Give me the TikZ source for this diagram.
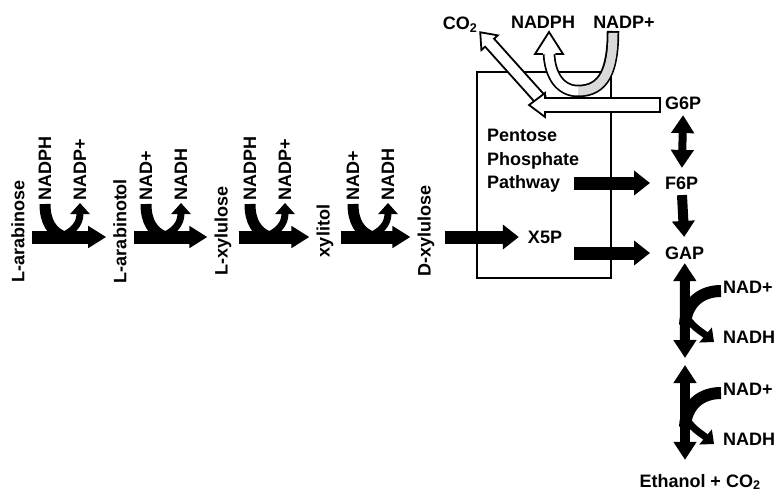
\documentclass[tikz,border=0pt]{standalone}
\usepackage{fontspec}
\setmainfont{Liberation Sans}
\usetikzlibrary{arrows.meta}

\begin{document}
\begin{tikzpicture}[x=1pt, y=-1pt, font=\bfseries\fontsize{18}{23.5}\selectfont,
  met/.style={inner sep=0pt},
  mainarr/.style={line width=13pt, -{Triangle[width=21pt,length=18pt]}},
  boxarr/.style={line width=13pt, -{Triangle[width=24pt,length=16pt]}},
  dblarr/.style={line width=10pt, {Triangle[width=22pt,length=18pt]}-{Triangle[width=22pt,length=18pt]}},
  band/.style={line width=11pt},
  outarr/.style={line width=7pt, -{Triangle[width=19pt,length=11pt]}},
  hollow/.style={draw, line width=1.8pt, fill=white, line join=miter}]
  \useasboundingbox (0,0) rectangle (778,496);
  % Pentose phosphate box
  \draw[line width=1.8pt] (477,72) rectangle (611,278);
  % Labels
  \node[met] (co2) at (460,25) {CO\textsubscript{2}};
  \node[met] (nadph) at (543,22) {NADPH};
  \node[met] (nadp) at (624,22) {NADP+};
  \node[met, anchor=west] (g6p) at (665,103) {G6P};
  \node[met, anchor=west] (f6p) at (665,183) {F6P};
  \node[met, anchor=west] (gap) at (665,253) {GAP};
  \node[met] (x5p) at (545,237) {X5P};
  \node[met, anchor=north west, align=left] (ppp) at (487,129) {Pentose\\Phosphate\\Pathway};
  \node[met] (eth) at (700,482) {Ethanol + CO\textsubscript{2}};
  \foreach \nm/\x/\txt in {ara/18/L-arabinose, arol/120/L-arabinotol, lxyl/223/L-xylulose,
      xol/325/xylitol, dxyl/426/D-xylulose}
    \node[met, rotate=90] (\nm) at (\x,231) {\txt};
  % CO2 branch
  \begin{scope}[shift={(541,100)}, rotate=131.9]
    \draw[hollow] (0pt,-6pt) -- (77pt,-6pt) -- (77pt,-11pt) -- (91pt,0pt) -- (77pt,11pt)
      -- (77pt,6pt) -- (0pt,6pt) -- cycle;
  \end{scope}
  % NADP+ in, NADPH out
  \coordinate (ubot) at (578,91);
  \draw[line width=12.5pt] (613,31) .. controls (613,70) and (604,91) .. (ubot)
    .. controls (560,91) and (550,75) .. (549,54);
  \draw[line width=9pt, gray!30, shorten <=1.8pt] (613,31) .. controls (613,70) and (604,91) .. (ubot);
  \draw[line width=9pt, white] (ubot) .. controls (560,91) and (550,75) .. (549,54);
  \draw[hollow] (542.75,54) -- (535,54) -- (549,32) -- (563,54) -- (555.25,54);
  % G6P into the pathway
  \draw[hollow] (660,98) -- (545,98) -- (545,93) -- (529,105) -- (545,117) -- (545,112)
    -- (660,112) -- cycle;
  % Arabinose steps
  \coordinate (row) at (0,237);
  \foreach \a/\b in {ara/arol, arol/lxyl, lxyl/xol, xol/dxyl}
    \draw[mainarr, shorten <=7pt, shorten >=7pt] (\a.south |- row) -- (\b.north |- row);
  \foreach \x/\ci/\co [count=\i] in {32/NADPH/NADP+, 133/NAD+/NADH, 237/NADPH/NADP+, 340/NAD+/NADH} {
    \node[met, rotate=90, anchor=west] (cin\i) at (\x+13,201) {\ci};
    \node[met, rotate=90, anchor=west] (cout\i) at (\x+48,201) {\co};
    \draw[band] ([yshift=-3pt]cin\i.west) .. controls +(0,18) and +(-12,-5) .. (\x+32,237);
    \draw[outarr] (\x+28,237) .. controls +(12,-5) and +(0,22) .. ([yshift=-2pt]cout\i.west);
  }
  \draw[boxarr, shorten <=10pt, shorten >=9pt] (dxyl.south |- row) -- (x5p.west);
  % Out of the pathway
  \coordinate (pp1) at (574,183);
  \coordinate (pp2) at (574,253);
  \draw[boxarr, shorten >=15pt] (pp1) -- (f6p.west);
  \draw[boxarr, shorten >=15pt] (pp2) -- (gap.west);
  % Glycolysis
  \draw[dblarr, line width=8pt, shorten <=5.5pt, shorten >=8.5pt] (g6p.south) -- (f6p.north);
  \draw[line width=10pt, -{Triangle[width=22pt,length=16pt]}, shorten <=5.5pt, shorten >=9.5pt]
    (f6p.south) -- (gap.north);
  \coordinate (mid) at (685,361.5);
  \draw[dblarr, shorten <=3.5pt, shorten >=3.5pt] (gap.south) -- (mid);
  \draw[dblarr, shorten <=3.5pt, shorten >=14pt] (mid) -- (mid |- eth.north);
  \foreach \y [count=\i] in {263,365} {
    \node[met, anchor=west] (nadi\i) at (723,\y+24) {NAD+};
    \node[met, anchor=west] (nadhi\i) at (723,\y+74) {NADH};
    \draw[band, line width=12pt] ([shift={(-2pt,-4pt)}]nadi\i.west) .. controls +(-20,0) and +(1,-22) .. (685,\y+62);
    \draw[outarr] (685,\y+50) .. controls +(4,12) and +(-12,-10) .. ([shift={(-9pt,-5pt)}]nadhi\i.west);
  }
\end{tikzpicture}
\end{document}
